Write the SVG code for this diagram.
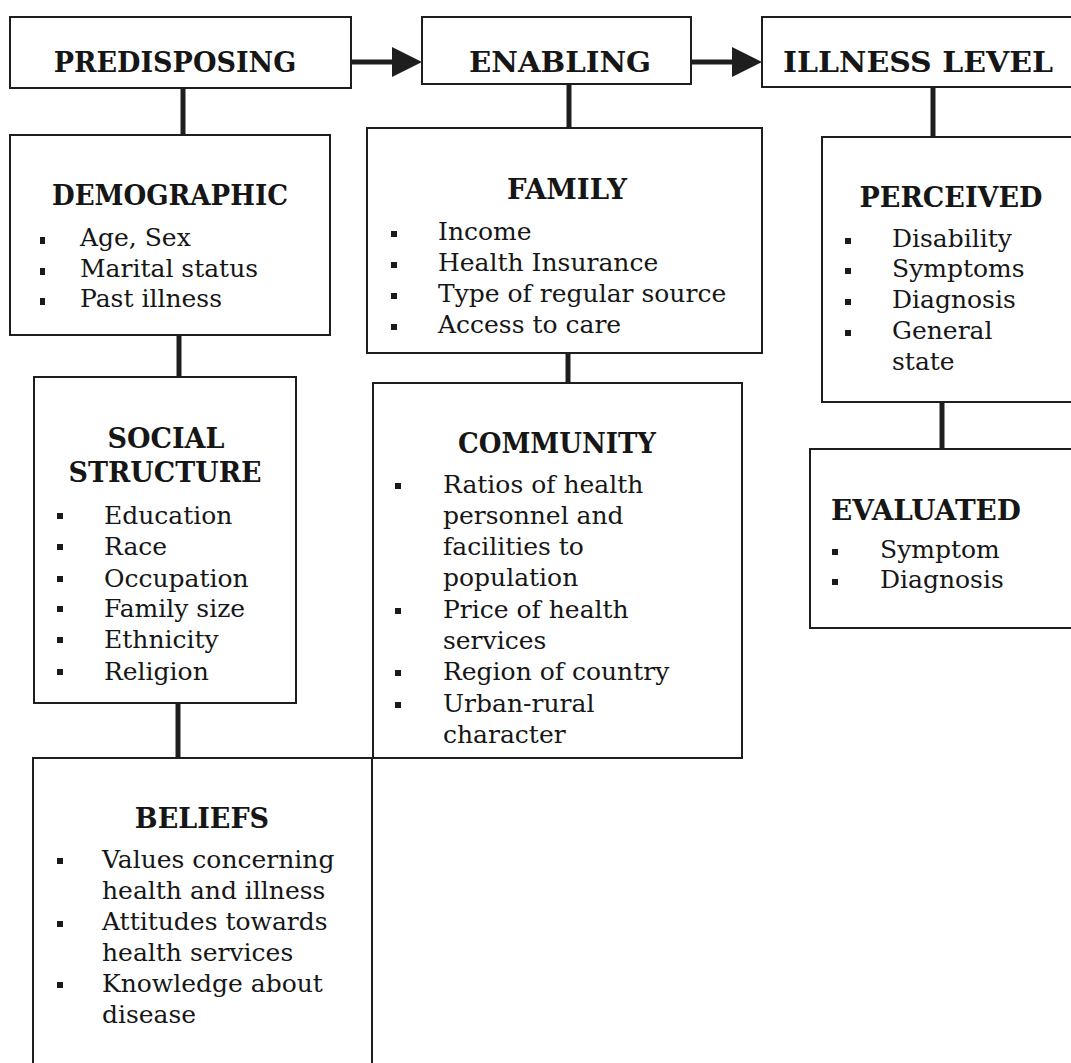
<svg xmlns="http://www.w3.org/2000/svg" width="1071" height="1063" viewBox="0 0 1071 1063">
<style>
.box{fill:#fff;stroke:#1e1e1e;stroke-width:2}
.t{font-family:"DejaVu Serif","Liberation Serif",serif;font-weight:bold;font-size:27px;fill:#161616;text-anchor:middle}
.i{font-family:"DejaVu Serif","Liberation Serif",serif;font-size:25px;fill:#161616}
.b{fill:#1a1a1a}
.c{stroke:#1e1e1e;stroke-width:5;fill:none}
</style>
<rect width="1071" height="1063" fill="#fff"/>
<g id="connectors">
<line class="c" x1="351" y1="62" x2="396" y2="62" stroke-width="6"/>
<polygon points="392,47 422,62 392,77" fill="#1e1e1e"/>
<line class="c" x1="691" y1="62" x2="736" y2="62" stroke-width="6"/>
<polygon points="732,47 762,62 732,77" fill="#1e1e1e"/>
<line class="c" x1="183" y1="88" x2="183" y2="135"/>
<line class="c" x1="179" y1="335" x2="179" y2="377"/>
<line class="c" x1="178" y1="703" x2="178" y2="758"/>
<line class="c" x1="569" y1="84" x2="569" y2="128"/>
<line class="c" x1="568" y1="353" x2="568" y2="383"/>
<line class="c" x1="933" y1="87" x2="933" y2="137" stroke-width="6"/>
<line class="c" x1="942" y1="402" x2="942" y2="449"/>
</g>
<g id="predisposing">
<rect class="box" x="10" y="17" width="341" height="71"/>
<text class="t" x="175" y="72">PREDISPOSING</text>
</g>
<g id="enabling">
<rect class="box" x="422" y="17" width="269" height="67"/>
<text class="t" x="560" y="72" textLength="182" lengthAdjust="spacingAndGlyphs">ENABLING</text>
</g>
<g id="illness">
<rect class="box" x="762" y="17" width="320" height="70"/>
<text class="t" x="918" y="72" textLength="270" lengthAdjust="spacingAndGlyphs">ILLNESS LEVEL</text>
</g>
<g id="demographic">
<rect class="box" x="10" y="135" width="320" height="200"/>
<text class="t" x="170" y="205" textLength="236" lengthAdjust="spacingAndGlyphs">DEMOGRAPHIC</text>
<rect class="b" x="40" y="237" width="5" height="7"/>
<rect class="b" x="40" y="268" width="5" height="7"/>
<rect class="b" x="40" y="298" width="5" height="7"/>
<text class="i" x="80" y="246">Age, Sex</text>
<text class="i" x="80" y="277">Marital status</text>
<text class="i" x="80" y="307">Past illness</text>
</g>
<g id="family">
<rect class="box" x="367" y="128" width="395" height="225"/>
<text class="t" x="567" y="199" textLength="120" lengthAdjust="spacingAndGlyphs">FAMILY</text>
<rect class="b" x="391" y="231" width="6" height="6"/>
<rect class="b" x="391" y="262" width="6" height="6"/>
<rect class="b" x="391" y="293" width="6" height="6"/>
<rect class="b" x="391" y="324" width="6" height="6"/>
<text class="i" x="438" y="240">Income</text>
<text class="i" x="438" y="271">Health Insurance</text>
<text class="i" x="438" y="302">Type of regular source</text>
<text class="i" x="438" y="333">Access to care</text>
</g>
<g id="perceived">
<rect class="box" x="822" y="137" width="260" height="265"/>
<text class="t" x="951" y="207" textLength="183" lengthAdjust="spacingAndGlyphs">PERCEIVED</text>
<rect class="b" x="845" y="238" width="6" height="6"/>
<rect class="b" x="845" y="268" width="6" height="6"/>
<rect class="b" x="845" y="299" width="6" height="6"/>
<rect class="b" x="845" y="330" width="6" height="6"/>
<text class="i" x="892" y="247">Disability</text>
<text class="i" x="892" y="277">Symptoms</text>
<text class="i" x="892" y="308">Diagnosis</text>
<text class="i" x="892" y="339">General</text>
<text class="i" x="892" y="370">state</text>
</g>
<g id="social">
<rect class="box" x="34" y="377" width="262" height="326"/>
<text class="t" x="166" y="448">SOCIAL</text>
<text class="t" x="165" y="482" textLength="193" lengthAdjust="spacingAndGlyphs">STRUCTURE</text>
<rect class="b" x="57" y="513" width="6" height="6"/>
<rect class="b" x="57" y="544" width="6" height="6"/>
<rect class="b" x="57" y="576" width="6" height="6"/>
<rect class="b" x="57" y="606" width="6" height="6"/>
<rect class="b" x="57" y="637" width="6" height="6"/>
<rect class="b" x="57" y="669" width="6" height="6"/>
<text class="i" x="104" y="524">Education</text>
<text class="i" x="104" y="555">Race</text>
<text class="i" x="104" y="587">Occupation</text>
<text class="i" x="104" y="617">Family size</text>
<text class="i" x="104" y="648">Ethnicity</text>
<text class="i" x="104" y="680">Religion</text>
</g>
<g id="community">
<rect class="box" x="373" y="383" width="369" height="375"/>
<text class="t" x="557" y="453" textLength="198" lengthAdjust="spacingAndGlyphs">COMMUNITY</text>
<rect class="b" x="395" y="483" width="6" height="6"/>
<rect class="b" x="395" y="608" width="6" height="6"/>
<rect class="b" x="395" y="670" width="6" height="6"/>
<rect class="b" x="395" y="702" width="6" height="6"/>
<text class="i" x="443" y="493">Ratios of health</text>
<text class="i" x="443" y="524">personnel and</text>
<text class="i" x="443" y="555">facilities to</text>
<text class="i" x="443" y="586">population</text>
<text class="i" x="443" y="618">Price of health</text>
<text class="i" x="443" y="649">services</text>
<text class="i" x="443" y="680">Region of country</text>
<text class="i" x="443" y="712">Urban-rural</text>
<text class="i" x="443" y="743">character</text>
</g>
<g id="evaluated">
<rect class="box" x="810" y="449" width="270" height="179"/>
<text class="t" x="926" y="520" textLength="190" lengthAdjust="spacingAndGlyphs">EVALUATED</text>
<rect class="b" x="832" y="549" width="6" height="6"/>
<rect class="b" x="832" y="579" width="6" height="6"/>
<text class="i" x="880" y="558">Symptom</text>
<text class="i" x="880" y="588">Diagnosis</text>
</g>
<g id="beliefs">
<rect class="box" x="33" y="758" width="339" height="320"/>
<text class="t" x="202" y="828">BELIEFS</text>
<rect class="b" x="57" y="858" width="6" height="6"/>
<rect class="b" x="57" y="921" width="6" height="6"/>
<rect class="b" x="57" y="982" width="6" height="6"/>
<text class="i" x="102" y="868">Values concerning</text>
<text class="i" x="102" y="899">health and illness</text>
<text class="i" x="102" y="930">Attitudes towards</text>
<text class="i" x="102" y="961">health services</text>
<text class="i" x="102" y="992">Knowledge about</text>
<text class="i" x="102" y="1023">disease</text>
</g>
</svg>
